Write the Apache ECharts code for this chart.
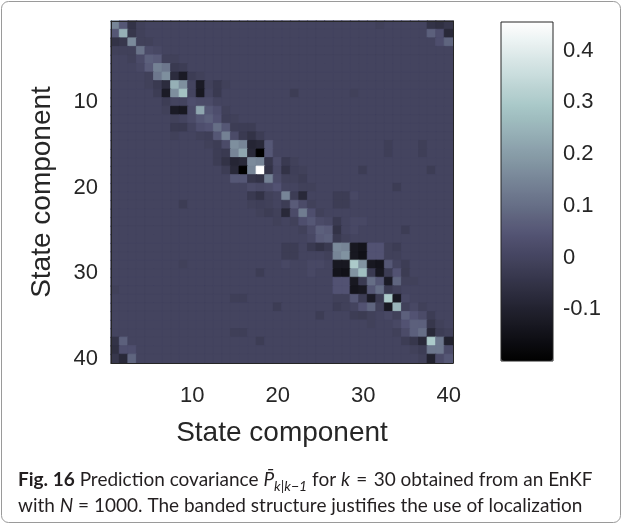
<!DOCTYPE html>
<html><head><meta charset="utf-8">
<script src="https://cdn.jsdelivr.net/npm/echarts@6/dist/echarts.min.js"></script>
<style>html,body{margin:0;padding:0;background:#fff}#c{width:623px;height:526px}</style>
</head><body><div id="c"></div>
<script>
// ---- data ----
const stateLabels = Array.from({length: 40}, (_, i) => String(i + 1));
const tickLabels = ['10', '20', '30', '40'];
const colorbarTicks = ['-0.1', '0', '0.1', '0.2', '0.3', '0.4'];
const colorMin = -0.2, colorMax = 0.455;
// diagonal entries P(i,i), i = 1..40
const diagValues = [0.15,0.24,0.16,0.11,0.07,0.14,0.17,0.24,0.28,0.03,
                    0.22,0.07,0.10,0.14,0.17,0.22,0.16,0.455,0.14,0.04,
                    0.15,0.06,0.13,0.05,0.07,0.07,0.16,0.18,0.30,0.27,
                    0.10,0.10,0.30,0.25,0.07,0.07,0.10,0.30,0.12,0.05];
// off-diagonal entries [row, col, value] (row > col), matrix is symmetric
const offDiagValues = [
 [2,1,0.05],[3,1,-0.05],[3,2,-0.04],[4,1,-0.01],[4,2,-0.01],[4,3,-0.01],
 [5,4,0.02],[5,3,-0.01],[6,5,0.06],[6,4,0.01],[7,5,-0.01],[7,6,0.12],
 [8,5,-0.01],[8,6,-0.03],[8,7,-0.07],[9,6,-0.02],[9,7,-0.12],[9,8,0.17],
 [10,7,-0.02],[11,7,-0.01],[11,8,-0.12],[11,9,-0.13],[11,10,0.02],
 [12,8,-0.01],[12,10,0.02],[12,11,0.05],[13,8,-0.03],[13,9,-0.03],[13,11,0.03],[13,12,0.04],
 [14,8,-0.01],[14,11,-0.01],[14,12,-0.015],[14,13,0.05],
 [15,12,-0.01],[15,13,-0.02],[15,14,0.02],[16,13,-0.02],[16,14,-0.03],[16,15,0.15],
 [17,13,-0.02],[17,14,-0.05],[17,15,-0.09],[17,16,-0.08],
 [18,14,-0.02],[18,15,-0.08],[18,16,-0.2],[18,17,0.15],
 [19,15,0.05],[19,16,0.05],[19,17,-0.04],[19,18,-0.05],
 [20,17,0.02],[20,18,0.01],[20,19,0.02],[21,17,-0.03],[21,18,-0.05],[21,19,-0.01],
 [22,9,-0.02],[22,17,-0.01],[22,18,-0.015],[22,19,-0.01],[22,21,-0.02],
 [23,18,-0.01],[23,19,-0.02],[23,20,-0.01],[23,21,-0.08],[23,22,0.02],
 [24,20,-0.01],[24,22,-0.01],[24,23,0.03],[25,23,-0.01],[25,24,0.02],
 [26,24,0.01],[26,25,0.06],
 [27,21,-0.02],[27,22,-0.02],[27,24,-0.03],[27,25,-0.05],[27,26,-0.03],
 [28,21,-0.02],[28,22,-0.02],[28,26,-0.01],[28,27,0.15],
 [29,9,-0.01],[29,21,0.01],[29,24,0.01],[29,25,0.01],[29,27,-0.13],[29,28,-0.13],
 [30,18,-0.02],[30,24,0.01],[30,27,-0.14],[30,28,-0.15],[30,29,0.18],
 [31,27,0.04],[31,28,0.04],[31,29,-0.13],[31,30,-0.03],
 [32,1,-0.01],[32,27,0.04],[32,28,0.04],[32,29,-0.14],[32,30,-0.13],[32,31,0.05],
 [33,15,-0.015],[33,16,-0.015],[33,27,-0.01],[33,28,-0.01],[33,29,0.05],[33,30,-0.02],[33,31,-0.12],[33,32,-0.03],
 [34,20,-0.02],[34,27,-0.02],[34,28,-0.01],[34,30,0.04],[34,31,0.08],[34,32,-0.01],[34,33,-0.13],
 [35,25,-0.02],[35,29,-0.02],[35,30,-0.025],[35,31,-0.01],[35,33,0.01],[35,34,-0.01],
 [36,31,-0.01],[36,34,0.01],[36,35,0.04],
 [37,15,-0.015],[37,16,-0.015],[37,34,-0.01],[37,35,0.02],[37,36,0.07],
 [38,1,-0.05],[38,2,0.07],[38,18,-0.02],[38,35,-0.02],[38,36,-0.04],[38,37,-0.08],
 [39,1,-0.06],[39,2,0.03],[39,3,0.03],[39,36,-0.01],[39,37,-0.02],[39,38,0.12],
 [40,1,-0.04],[40,2,-0.08],[40,3,0.08],[40,37,-0.01],[40,38,-0.1],[40,39,0.02]
];

// MATLAB "bone" colormap
function bone(x) {
  x = Math.min(1, Math.max(0, x));
  const a = 0.365079, b = 0.746032;
  const r = x < b ? x * 0.652778 / b : 0.652778 + (x - b) * (1 - 0.652778) / (1 - b);
  const g = x < a ? x * 0.319444 / a : (x < b ? 0.319444 + (x - a) * (0.777778 - 0.319444) / (b - a)
                                               : 0.777778 + (x - b) * (1 - 0.777778) / (1 - b));
  const bl = x < a ? x * 0.444444 / a : 0.444444 + (x - a) * (1 - 0.444444) / (1 - a);
  const h = t => Math.round(Math.min(1, Math.max(0, t)) * 255);
  return 'rgb(' + h(r) + ',' + h(g) + ',' + h(bl) + ')';
}
const boneColors = Array.from({length: 64}, (_, i) => bone(i / 63));
const colorOf = v => bone((v - colorMin) / (colorMax - colorMin));

// ---- build matrix ----
const n = stateLabels.length;
const M = Array.from({length: n}, () => new Array(n).fill(0));
diagValues.forEach((v, i) => { M[i][i] = v; });
offDiagValues.forEach(([r, c, v]) => { M[r-1][c-1] = v; M[c-1][r-1] = v; });
const heatData = [];
for (let r = 0; r < n; r++) for (let c = 0; c < n; c++) {
  const col = colorOf(M[r][c]);
  heatData.push({value: [c, r, M[r][c]], itemStyle: {color: col, borderColor: col, borderWidth: 0.8}});
}

const axisColor = '#262626';
const tickFont = 'Liberation Sans, Arial, Helvetica, sans-serif';
const isTick = i => tickLabels.indexOf(stateLabels[i]) >= 0;

const G = {left: 111, top: 21, width: 342, height: 342};
const CB = {left: 501, top: 22, width: 52, height: 339};
const TICK_FS = 22, TITLE_FS = 28, CAP_FS = 19;

const chart = echarts.init(document.getElementById('c'), null, {renderer: 'canvas'});
chart.setOption({
  animation: false,
  backgroundColor: '#ffffff',
  grid: [
    Object.assign({show: true, backgroundColor: colorOf(0), borderWidth: 0}, G),
    Object.assign({}, CB)
  ],
  xAxis: [
    {type: 'category', gridIndex: 0, data: stateLabels, position: 'bottom', z: 10,
     axisLine: {lineStyle: {color: axisColor, width: 1}},
     axisTick: {inside: true, length: 4, alignWithLabel: true, interval: isTick, lineStyle: {color: axisColor}},
     axisLabel: {interval: isTick, fontSize: TICK_FS, color: axisColor, fontFamily: tickFont, margin: 22},
     splitLine: {show: false},
     name: 'State component', nameLocation: 'middle', nameGap: 56,
     nameTextStyle: {fontSize: TITLE_FS, color: axisColor, fontFamily: tickFont}},
    {type: 'category', gridIndex: 0, data: stateLabels, position: 'top', z: 10,
     axisLine: {lineStyle: {color: axisColor, width: 1}},
     axisTick: {inside: true, length: 4, alignWithLabel: true, interval: isTick, lineStyle: {color: axisColor}},
     axisLabel: {show: false}, splitLine: {show: false}},
    {type: 'category', gridIndex: 1, data: ['cb'], show: false}
  ],
  yAxis: [
    {type: 'category', gridIndex: 0, data: stateLabels, inverse: true, position: 'left', z: 10,
     axisLine: {lineStyle: {color: axisColor, width: 1}},
     axisTick: {inside: true, length: 4, alignWithLabel: true, interval: isTick, lineStyle: {color: axisColor}},
     axisLabel: {interval: isTick, fontSize: TICK_FS, color: axisColor, fontFamily: tickFont, margin: 13},
     splitLine: {show: false},
     name: 'State component', nameLocation: 'middle', nameGap: 55, nameRotate: 90,
     nameTextStyle: {fontSize: TITLE_FS, color: axisColor, fontFamily: tickFont}},
    {type: 'category', gridIndex: 0, data: stateLabels, inverse: true, position: 'right', z: 10,
     axisLine: {lineStyle: {color: axisColor, width: 1}},
     axisTick: {inside: true, length: 4, alignWithLabel: true, interval: isTick, lineStyle: {color: axisColor}},
     axisLabel: {show: false}, splitLine: {show: false}},
    {type: 'value', gridIndex: 1, min: colorMin, max: colorMax, interval: 0.1, position: 'right', z: 10,
     axisLine: {show: false},
     axisTick: {inside: true, length: 4, lineStyle: {color: axisColor}},
     axisLabel: {fontSize: TICK_FS, color: axisColor, fontFamily: tickFont, margin: 10,
       showMinLabel: false, showMaxLabel: false,
       formatter: v => { const s = String(Math.round(v * 10) / 10); return colorbarTicks.indexOf(s) >= 0 ? s : ''; }},
     splitLine: {show: false}}
  ],
  visualMap: {
    type: 'continuous', seriesIndex: 0, dimension: 2, min: colorMin, max: colorMax,
    inRange: {color: boneColors}, calculable: false, hoverLink: false,
    left: CB.left, top: CB.top, itemWidth: CB.width, itemHeight: CB.height, padding: 0,
    orient: 'vertical', text: null, show: true, z: 1
  },
  series: [{
    type: 'heatmap', xAxisIndex: 0, yAxisIndex: 0, data: heatData,
    emphasis: {disabled: true}, progressive: 0, z: 1
  }],
  graphic: [
    {type: 'rect', z: 100, silent: true,
     shape: {x: CB.left, y: CB.top, width: CB.width, height: CB.height},
     style: {fill: 'none', stroke: axisColor, lineWidth: 1}},
    {type: 'rect', z: 100, silent: true,
     shape: {x: 1.5, y: 1.5, width: 619, height: 521, r: 7},
     style: {fill: 'none', stroke: '#9a9a9a', lineWidth: 1}},
    {type: 'text', left: 18, top: 467, z: 100, silent: true,
     style: {
       text: '{b|Fig. 16} Prediction covariance {i|P\u0304}{s|k|k\u22121} for {i|k}\u2004=\u200430 obtained from an EnKF\nwith {i|N} = 1000. The banded structure justifies the use of localization',
       fontSize: CAP_FS, fontFamily: 'Lato, sans-serif', fill: '#231f20', lineHeight: 26,
       rich: {
         b: {fontWeight: 'bold', fontSize: CAP_FS, fontFamily: 'Lato, sans-serif', fill: '#231f20'},
         i: {fontStyle: 'italic', fontSize: CAP_FS, fontFamily: 'Lato, sans-serif', fill: '#231f20'},
         s: {fontStyle: 'italic', fontSize: 14, fontFamily: 'Lato, sans-serif', fill: '#231f20', verticalAlign: 'bottom', lineHeight: 20}
       }
     }}
  ]
});
</script></body></html>
